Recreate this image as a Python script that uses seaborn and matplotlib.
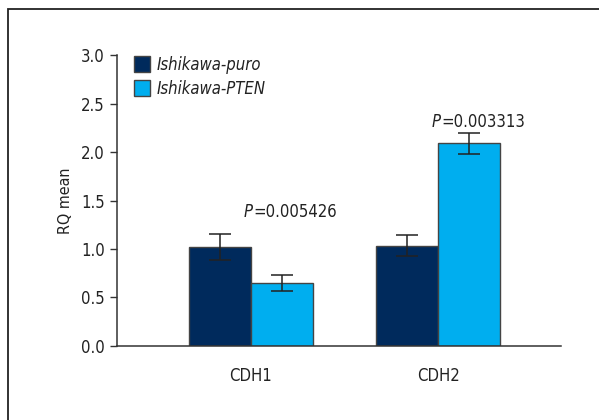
import matplotlib
matplotlib.use("Agg")
import matplotlib.pyplot as plt
import seaborn as sns
import pandas as pd
from matplotlib.patches import Rectangle, Patch

genes = ["CDH1", "CDH2"]
groups = ["Ishikawa-puro", "Ishikawa-PTEN"]
puro_mean = [1.02, 1.035]
pten_mean = [0.65, 2.09]
puro_err = [0.13, 0.105]
pten_err = [0.085, 0.105]
pvalues = ["0.005426", "0.003313"]
p_y = [1.385, 2.31]
yticks = [0.0, 0.5, 1.0, 1.5, 2.0, 2.5, 3.0]
colors = ["#002A5C", "#00AEEF"]

sns.set_style("white")
plt.rcParams['font.family'] = ['DejaVu Sans']
plt.rcParams['font.stretch'] = 'condensed'

df = pd.DataFrame({
    "gene": genes * 2,
    "group": [groups[0]] * 2 + [groups[1]] * 2,
    "value": puro_mean + pten_mean,
    "err": puro_err + pten_err,
})

FS = 12
TXT = "#222222"

fig = plt.figure(figsize=(5.99, 4.2), dpi=100)
ax = fig.add_axes([0.1958, 0.1769, 0.7408, 0.6914])
sns.barplot(data=df, x="gene", y="value", hue="group", palette=colors,
            width=0.66, errorbar=None, edgecolor="#444444", linewidth=1,
            saturation=1, legend=False, ax=ax, order=genes, hue_order=groups)

# error bars positioned from the drawn bar patches
bars = [p for p in ax.patches if isinstance(p, Rectangle)]
for i, grp in enumerate(groups):
    for j, g in enumerate(genes):
        b = bars[i * len(genes) + j]
        row = df[(df.group == grp) & (df.gene == g)].iloc[0]
        ax.errorbar(b.get_x() + b.get_width() / 2, row.value, yerr=row.err,
                    fmt="none", ecolor="#222222", elinewidth=1.1, capsize=8,
                    capthick=1.1, zorder=5)

for j in range(len(genes)):
    pt = ax.text(j - 0.037, p_y[j], "P", style="italic", ha="left",
                 va="center", fontsize=FS, color=TXT)
    ax.annotate("=" + pvalues[j], xy=(1, 0.5), xycoords=pt, xytext=(0.5, 0),
                textcoords="offset points", ha="left", va="center",
                fontsize=FS, color=TXT)

ax.set_xlim(-0.713, 1.656)
ax.set_ylim(0, 3.0)
ax.set_yticks(yticks)
ax.set_yticklabels([f"{v:.1f}" for v in yticks], fontsize=FS, color=TXT)
ax.set_xticks(range(len(genes)))
ax.set_xticklabels(genes, fontsize=FS, color=TXT)
ax.tick_params(axis="x", length=0, pad=15)
ax.tick_params(axis="y", length=5, width=1, color="#333333", direction="out",
               pad=4, left=True)
ax.set_xlabel("")
ax.set_ylabel("RQ mean", fontsize=FS - 0.5, color=TXT, labelpad=6)
sns.despine(ax=ax)
for s in ["left", "bottom"]:
    ax.spines[s].set_color("#333333")
    ax.spines[s].set_linewidth(1.1)

handles = [Patch(facecolor=c, edgecolor="#444444", linewidth=1) for c in colors]
leg = ax.legend(handles, groups, loc="upper left", bbox_to_anchor=(0.037, 0.998),
                frameon=False, fontsize=FS, handlelength=1.0, handleheight=1.1,
                handletextpad=0.4, labelspacing=0.35, borderaxespad=0,
                borderpad=0)
for t in leg.get_texts():
    t.set_style("italic")
    t.set_color(TXT)

fig.patches.append(Rectangle((7.5 / 599, -0.1), 1.2, 1 - 9.3 / 420 + 0.1,
                             transform=fig.transFigure, fill=False,
                             edgecolor="#222222", linewidth=1.3))

fig.savefig("out.png", dpi=100)
